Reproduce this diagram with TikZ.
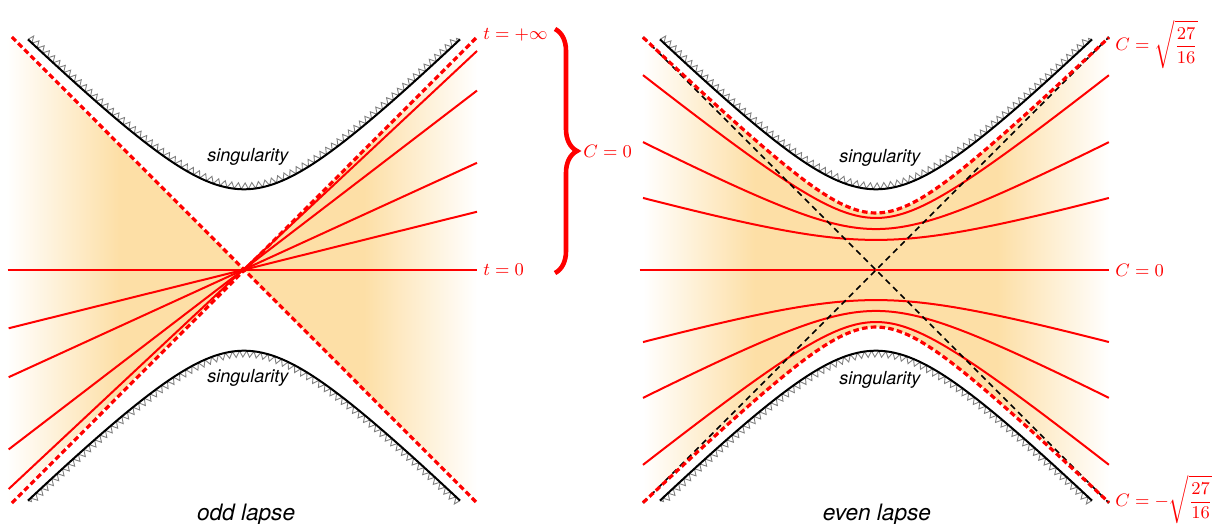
\documentclass[tikz,border=0pt]{standalone}
\usepackage{fontspec}
\newfontfamily\helv{TeX Gyre Heros}
\usetikzlibrary{decorations.pathmorphing,decorations.pathreplacing}
\definecolor{lor}{RGB}{253,223,166}
\pgfdeclarehorizontalshading{fadeLR}{100bp}{color(0bp)=(white); color(25bp)=(white); color(37bp)=(lor); color(63bp)=(lor); color(75bp)=(white); color(100bp)=(white)}
\tikzset{
 redline/.style={red, line width=1pt},
 reddash/.style={red, line width=1.6pt, dash pattern=on 2.8pt off 1.6pt},
 blackdash/.style={black, line width=0.75pt, dash pattern=on 3pt off 2.2pt},
 singline/.style={black, line width=1pt},
 teeth/.style={black!50, line width=0.45pt, decorate, decoration={zigzag, segment length=3.6pt, amplitude=1.6pt, raise=#1}},
 lbl/.style={font=\helv\itshape\fontsize{9}{11}\selectfont, inner sep=0pt},
 lapselbl/.style={font=\helv\itshape\fontsize{11.3}{13}\selectfont, inner sep=0pt, anchor=base},
 mlab/.style={red, font=\fontsize{9}{11}\selectfont, anchor=west, inner sep=1pt, xshift=2pt},
 mlabb/.style={red, font=\fontsize{9}{11}\selectfont, anchor=base west, inner sep=0.3pt, xshift=2.7pt},
}
\begin{document}
\begin{tikzpicture}[x=0.5pt,y=-0.5pt]
\useasboundingbox (0,0) rectangle (1212,524);
% ---------------- left panel: odd lapse ----------------
\begin{scope}[shift={(244,270)}, x=116.5pt, y=116.5pt]
 \begin{scope}
  \clip (-1.02,1.01) -- (0,0) -- (-1.02,-1.01) -- cycle (1,1) -- (0,0) -- (1,-1) -- cycle;
  \shade[shading=fadeLR] (-1.02,-1.01) rectangle (1,1.01);
 \end{scope}
 \foreach \k in {0.25,0.46,0.77,0.94} \draw[redline] (-1.01,-\k) -- (1,\k);
 \draw[redline] (-1.015,0) -- (1,0);
 \draw[reddash] (-0.996,1) -- (1,-1);
 \draw[reddash] (-0.996,-1) -- (1,1);
 % singularities
 \draw[teeth=1.6pt] plot[domain=-0.927:0.927, samples=61] (\x,{sqrt(\x*\x+0.12)});
 \draw[singline] plot[domain=-0.927:0.927, samples=80, smooth] (\x,{sqrt(\x*\x+0.12)});
 \draw[teeth=1.6pt] plot[domain=0.927:-0.927, samples=61] (\x,{-sqrt(\x*\x+0.12)});
 \draw[singline] plot[domain=0.927:-0.927, samples=80, smooth] (\x,{-sqrt(\x*\x+0.12)});
 \node[lbl] (s1) at (0.017,0.487) {singularity};
 \node[lbl] (s2) at (0.017,-0.463) {singularity};
 \node[mlab] (tinf) at (1,1.01) {$t=+\infty$};
 \node[mlab] (tzero) at (1,0) {$t=0$};
 \node[lapselbl] (odd) at (0.009,-1.073) {odd lapse};
\end{scope}
% brace
\coordinate (btop) at (555,29);
\coordinate (bbot) at (555,273);
\draw[red, line width=2.3pt, decorate, decoration={brace, amplitude=11pt}] (btop) -- (bbot);
\node[mlab, xshift=-2pt] (czero) at (581,151) {$C=0$};
% ---------------- right panel: even lapse ----------------
\begin{scope}[shift={(876,270)}, x=116.5pt, y=116.5pt]
 \begin{scope}
  \clip plot[domain=-1:1, samples=60, smooth] (\x,{0.968*sqrt(\x*\x+0.0639)}) -- plot[domain=1:-1, samples=60, smooth] (\x,{-0.968*sqrt(\x*\x+0.0639)}) -- cycle;
  \shade[shading=fadeLR] (-1,-1.01) rectangle (1,1.01);
 \end{scope}
 \foreach \a/\b in {0.806/0.0767, 0.52/0.1142, 0.281/0.2111} {
  \draw[redline] plot[domain=-1:1, samples=60, smooth] (\x,{\a*sqrt(\x*\x+\b)});
  \draw[redline] plot[domain=-1:1, samples=60, smooth] (\x,{-\a*sqrt(\x*\x+\b)});
 }
 \draw[redline] (-1.015,0) -- (1,0);
 \draw[blackdash] (-1,1) -- (1,-1);
 \draw[blackdash] (-1,-1) -- (1,1);
 \draw[reddash] plot[domain=-1:1, samples=60, smooth] (\x,{0.968*sqrt(\x*\x+0.0639)});
 \draw[reddash] plot[domain=-1:1, samples=60, smooth] (\x,{-0.968*sqrt(\x*\x+0.0639)});
 % singularities
 \draw[teeth=1.6pt] plot[domain=-0.927:0.927, samples=61] (\x,{sqrt(\x*\x+0.12)});
 \draw[singline] plot[domain=-0.927:0.927, samples=80, smooth] (\x,{sqrt(\x*\x+0.12)});
 \draw[teeth=1.6pt] plot[domain=0.927:-0.927, samples=61] (\x,{-sqrt(\x*\x+0.12)});
 \draw[singline] plot[domain=0.927:-0.927, samples=80, smooth] (\x,{-sqrt(\x*\x+0.12)});
 \node[lbl] (s3) at (0.017,0.483) {singularity};
 \node[lbl] (s4) at (0.017,-0.47) {singularity};
 \node[mlabb] (cp) at (1,0.94) {$C=\sqrt{\displaystyle\frac{27}{16}}$};
 \node[mlab] (cz) at (1,0) {$C=0$};
 \node[mlabb] (cm) at (1,-1.015) {$C=-\sqrt{\displaystyle\frac{27}{16}}$};
 \node[lapselbl] (even) at (0.004,-1.073) {even lapse};
\end{scope}
\end{tikzpicture}
\end{document}
